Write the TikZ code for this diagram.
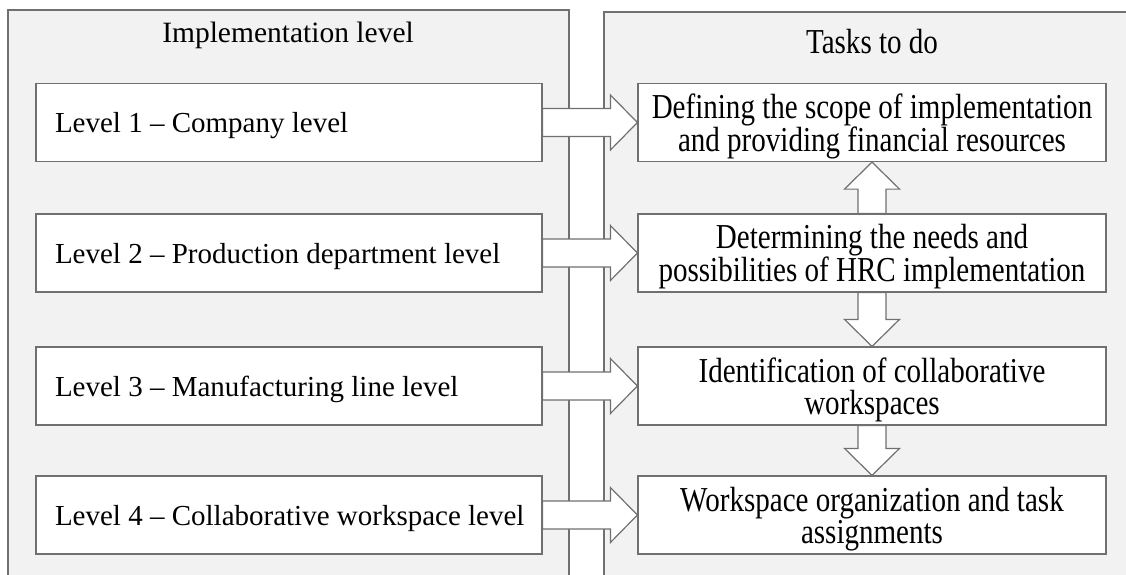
\documentclass[tikz,border=0pt]{standalone}
\usepackage{fontspec}
\setmainfont{Liberation Serif}
\newfontfamily\tallserif[FakeStretch=0.83]{Liberation Serif}
\usetikzlibrary{calc}

\definecolor{panelgray}{HTML}{F2F2F2}
\definecolor{edgegray}{HTML}{707070}

\tikzset{
  panel/.style={draw=edgegray, fill=panelgray, line width=1.2pt},
  levelbox/.style={draw=edgegray, fill=white, line width=1.2pt,
    minimum width=506pt, minimum height=78pt, inner xsep=19pt, text depth=0pt,
    font=\fontsize{29}{32}\selectfont},
  taskbox/.style={draw=edgegray, fill=white, line width=1.2pt,
    minimum width=468pt, minimum height=78pt, align=center, text depth=-3pt,
    font=\tallserif\fontsize{35}{32}\selectfont},
  blockline/.style={draw=edgegray, fill=white, line width=1.2pt, line join=miter}
}

% left-aligned level text
\newcommand{\leveltext}[1]{\makebox[468pt][l]{#1}}

% wide hollow arrow: #1 start, #2 tip
\newcommand{\bigarrow}[2]{%
  \coordinate (headbase) at ($(#2)!27pt!(#1)$);
  \draw[blockline] ($(#1)!14pt!90:(#2)$) -- ($(headbase)!14pt!-90:(#1)$)
    -- ($(headbase)!27.5pt!-90:(#1)$) -- (#2)
    -- ($(headbase)!27.5pt!90:(#1)$) -- ($(headbase)!14pt!90:(#1)$)
    -- ($(#1)!14pt!-90:(#2)$) -- cycle;
}

\begin{document}
\begin{tikzpicture}[x=1pt, y=-1pt]
  \useasboundingbox (0,0) rectangle (1126,574);
  \clip (0,0) rectangle (1126,574);

  % the two panels
  \draw[panel] (8,10) rectangle (569,600);
  \draw[panel] (604,12) rectangle (1150,600);
  \node[anchor=base, font=\fontsize{29.5}{32}\selectfont] (implTitle) at (288,42) {Implementation level};
  \node[anchor=base, font=\tallserif\fontsize{35}{32}\selectfont] (tasksTitle) at (872,53) {Tasks to do};

  % levels
  \node[levelbox] (lvl1) at (289,122.5) {\leveltext{Level 1 – Company level}};
  \node[levelbox] (lvl2) at (289,253) {\leveltext{Level 2 – Production department level}};
  \node[levelbox] (lvl3) at (289,386) {\leveltext{Level 3 – Manufacturing line level}};
  \node[levelbox] (lvl4) at (289,515) {\leveltext{Level 4 – Collaborative workspace level}};

  % tasks
  \node[taskbox] (task1) at (872,122.5) {Defining the scope of implementation\\and providing financial resources};
  \node[taskbox] (task2) at (872,253) {Determining the needs and\\possibilities of HRC implementation};
  \node[taskbox] (task3) at (872,386) {Identification of collaborative\\workspaces};
  \node[taskbox] (task4) at (872,515) {Workspace organization and task\\assignments};

  \foreach \n in {1,...,4}{
    \bigarrow{lvl\n.east}{task\n.west}
  }
  \bigarrow{task2.north}{task1.south}
  \bigarrow{task2.south}{task3.north}
  \bigarrow{task3.south}{task4.north}
\end{tikzpicture}
\end{document}
